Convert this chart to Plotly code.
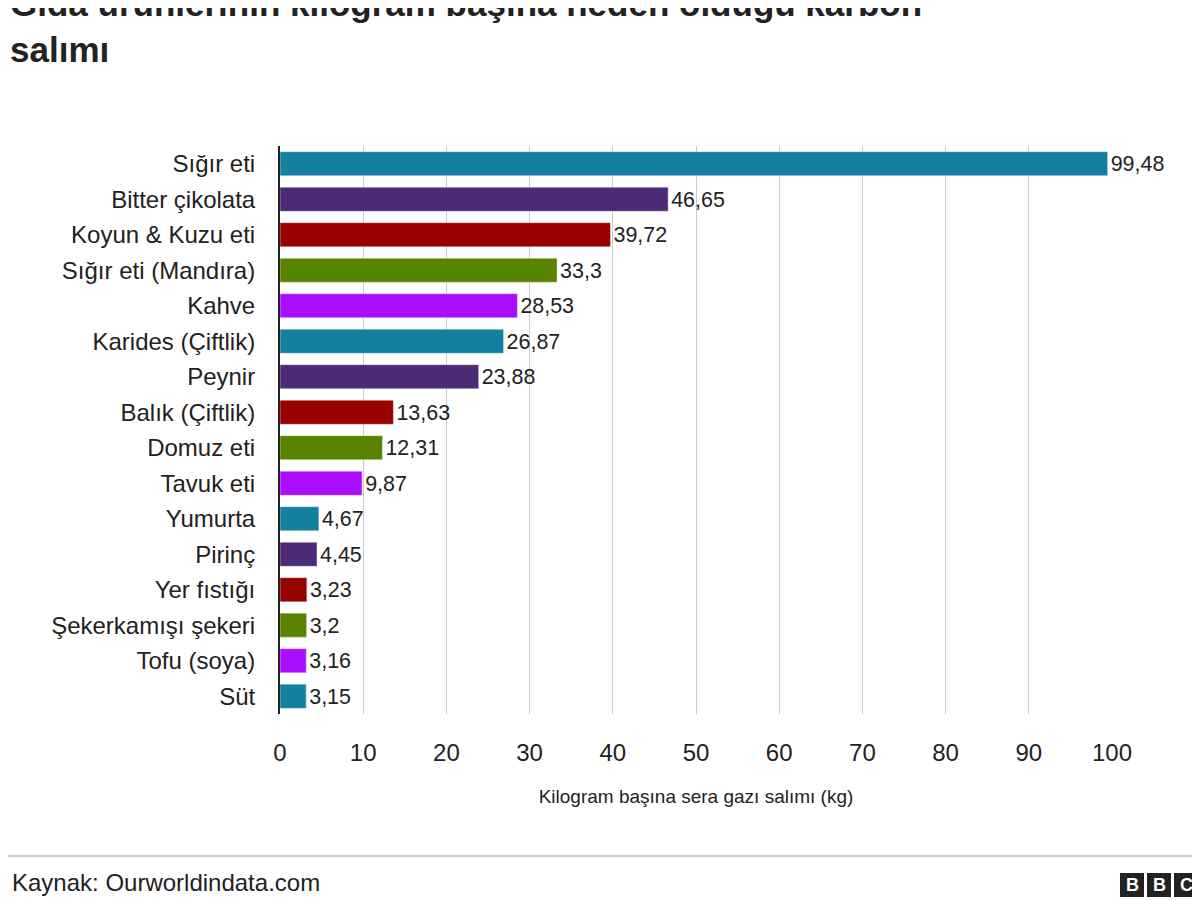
import plotly.graph_objects as go

foods = ["Sığır eti","Bitter çikolata","Koyun & Kuzu eti","Sığır eti (Mandıra)","Kahve","Karides (Çiftlik)","Peynir","Balık (Çiftlik)","Domuz eti","Tavuk eti","Yumurta","Pirinç","Yer fıstığı","Şekerkamışı şekeri","Tofu (soya)","Süt"]
values = [99.48,46.65,39.72,33.3,28.53,26.87,23.88,13.63,12.31,9.87,4.67,4.45,3.23,3.2,3.16,3.15]
palette = ["#1380A1","#4B2A76","#990000","#588300","#AB0DFF"]
colors = [palette[i % 5] for i in range(len(foods))]
labels = [f"{v:g}".replace(".", ",") for v in values]

W, H = 1200, 900
L, R, T, B = 272, 96, 138, 194
PW, PH = W-L-R, H-T-B
def px(x): return (x-L)/PW
def py(y): return (H-B-y)/PH

fig = go.Figure(go.Bar(x=values, y=foods, orientation="h", marker_color=colors,
                       text=labels, textposition="outside", cliponaxis=False,
                       textfont=dict(size=24, color="#222"), width=0.68))
fig.update_layout(
    width=W, height=H, margin=dict(l=L, r=R, t=T, b=B),
    plot_bgcolor="white", paper_bgcolor="white",
    font=dict(family="Liberation Sans, Arial, sans-serif", color="#222"),
    title=dict(text="<b>Gıda ürünlerinin kilogram başına neden olduğu karbon<br>salımı</b>",
               x=2/W, xref="container", xanchor="left", yref="container", y=1-8/H, yanchor="top",
               font=dict(size=35, color="#222")),
    showlegend=False, bargap=0.32,
)
fig.update_xaxes(range=[0, 100], dtick=10, showgrid=True, gridcolor="#cbcbcb",
                 tickfont=dict(size=24), ticks="", zeroline=False, ticklabelstandoff=22,
                 title=dict(text="Kilogram başına sera gazı salımı (kg)", font=dict(size=19), standoff=24))
fig.update_yaxes(autorange="reversed", tickfont=dict(size=24), showline=True,
                 linecolor="#222", linewidth=2, ticks="", ticklabelstandoff=18)
fig.add_shape(type="line", xref="paper", yref="paper", x0=px(0), x1=px(W),
              y0=py(848), y1=py(848), line=dict(color="#999", width=1))
fig.add_annotation(text="Kaynak: Ourworldindata.com", xref="paper", yref="paper",
                   x=px(2), y=py(875), xanchor="left", yanchor="middle",
                   showarrow=False, font=dict(size=24, color="#222"))
for i, ch in enumerate("BBC"):
    x0 = 1112 + i*27
    fig.add_shape(type="rect", xref="paper", yref="paper",
                  x0=px(x0), x1=px(x0+24), y0=py(889), y1=py(865),
                  fillcolor="#222", line=dict(width=0))
    fig.add_annotation(text=f"<b>{ch}</b>", xref="paper", yref="paper",
                       x=px(x0+12), y=py(877), showarrow=False,
                       font=dict(size=18, color="white"), xanchor="center", yanchor="middle")
fig.write_html("out.html")
